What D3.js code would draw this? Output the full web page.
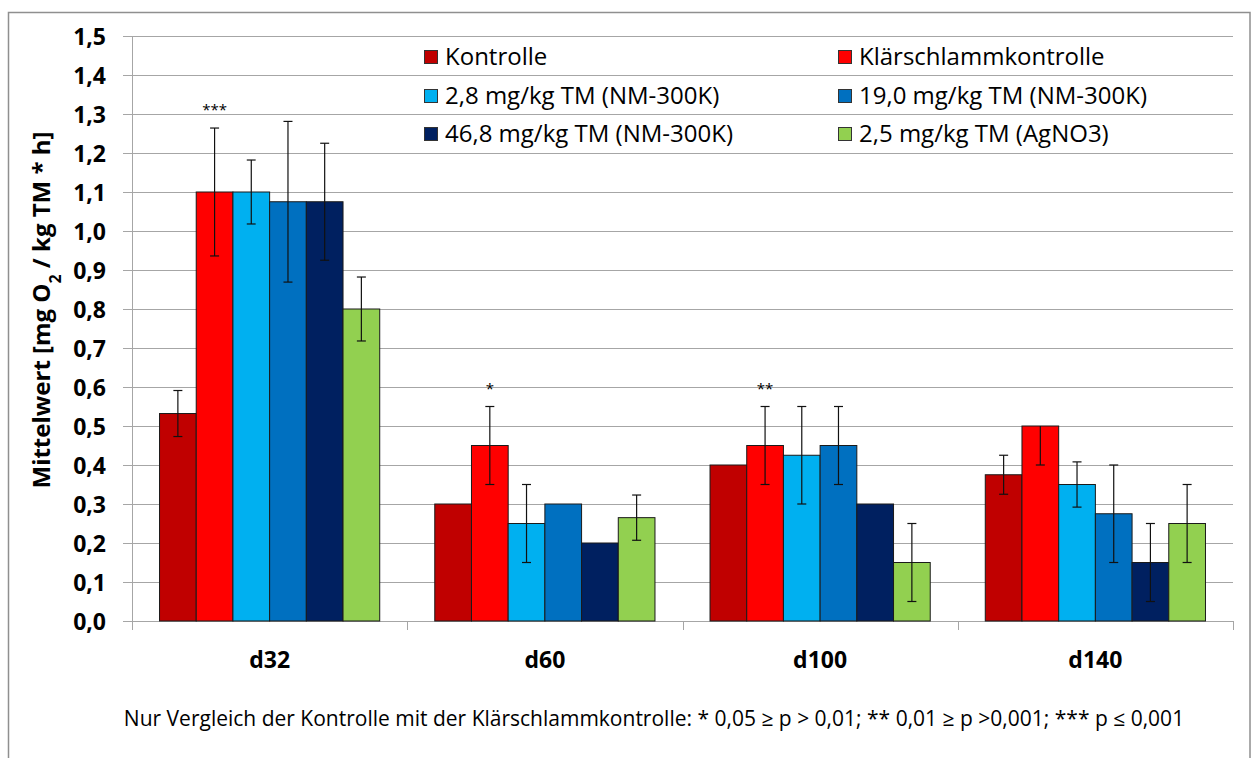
<!DOCTYPE html>
<html>
<head>
<meta charset="utf-8">
<script src="https://cdn.jsdelivr.net/npm/d3@7"></script>
<style>
  html, body { margin: 0; padding: 0; background: #fff; }
  svg { display: block; }
  text { font-family: "Open Sans", "Noto Sans", sans-serif; fill: #000; }
</style>
</head>
<body>
<svg id="chart" width="1252" height="758"></svg>
<script>
// Sampling days
const categories = ["d32", "d60", "d100", "d140"];

// Treatments (legend order)
const seriesNames = [
  "Kontrolle",
  "Klärschlammkontrolle",
  "2,8 mg/kg TM (NM-300K)",
  "19,0 mg/kg TM (NM-300K)",
  "46,8 mg/kg TM (NM-300K)",
  "2,5 mg/kg TM (AgNO3)"
];
const seriesColors = ["#C00000", "#FF0000", "#00B0F0", "#0070C0", "#002060", "#92D050"];

// Mean respiration per day [mg O2 / kg TM * h]
const kontrolle   = [0.532, 0.30, 0.40,  0.375];
const klaer       = [1.10,  0.45, 0.45,  0.50];
const nm28        = [1.10,  0.25, 0.425, 0.35];
const nm190       = [1.075, 0.30, 0.45,  0.275];
const nm468       = [1.075, 0.20, 0.30,  0.15];
const agno3       = [0.80,  0.265, 0.15, 0.25];

// Error bars: upper and lower deviation (null = no bar)
const kontrolleErrPlus  = [0.059, null, null, 0.05];
const kontrolleErrMinus = [0.059, null, null, 0.05];
const klaerErrPlus      = [0.164, 0.10, 0.10, 0];
const klaerErrMinus     = [0.164, 0.10, 0.10, 0.10];
const nm28ErrPlus       = [0.082, 0.10, 0.125, 0.058];
const nm28ErrMinus      = [0.082, 0.10, 0.125, 0.058];
const nm190ErrPlus      = [0.206, null, 0.10, 0.125];
const nm190ErrMinus     = [0.206, null, 0.10, 0.125];
const nm468ErrPlus      = [0.15, null, null, 0.10];
const nm468ErrMinus     = [0.15, null, null, 0.10];
const agno3ErrPlus      = [0.082, 0.058, 0.10, 0.10];
const agno3ErrMinus     = [0.082, 0.058, 0.10, 0.10];

// Significance marks (Kontrolle vs. Klärschlammkontrolle)
const sigCategories = ["d32", "d60", "d100"];
const sigLabels     = ["***", "*", "**"];

// Y axis ticks
const yTicks = [0, 0.1, 0.2, 0.3, 0.4, 0.5, 0.6, 0.7, 0.8, 0.9, 1.0, 1.1, 1.2, 1.3, 1.4, 1.5];

const footnote = "Nur Vergleich der Kontrolle mit der Klärschlammkontrolle: * 0,05 \u2265 p > 0,01; ** 0,01 \u2265 p >0,001; *** p \u2264 0,001";

const seriesValues = [kontrolle, klaer, nm28, nm190, nm468, agno3];
const seriesPlus   = [kontrolleErrPlus, klaerErrPlus, nm28ErrPlus, nm190ErrPlus, nm468ErrPlus, agno3ErrPlus];
const seriesMinus  = [kontrolleErrMinus, klaerErrMinus, nm28ErrMinus, nm190ErrMinus, nm468ErrMinus, agno3ErrMinus];

const svg = d3.select("#chart");
const W = 1252, H = 758;
const plot = { left: 132, right: 1233, top: 36, bottom: 621 };

svg.append("rect").attr("width", W).attr("height", H).attr("fill", "#fff");

// Outer chart frame
svg.append("rect")
  .attr("x", 8.5).attr("y", 12.5)
  .attr("width", 1241.5).attr("height", 760)
  .attr("fill", "none").attr("stroke", "#8f8f8f").attr("stroke-width", 1.5);

const y = d3.scaleLinear().domain([0, 1.5]).range([plot.bottom, plot.top]);
const x0 = d3.scaleBand().domain(categories).range([plot.left, plot.right]).padding(0);
const x1 = d3.scaleBand().domain(d3.range(seriesNames.length))
  .range([0, x0.bandwidth()]).paddingInner(0).paddingOuter(0.75);

// Horizontal gridlines with tick stubs
const yAxis = d3.axisLeft(y).tickValues(yTicks)
  .tickSize(-(plot.right - plot.left) - 9)
  .tickFormat(d => d3.format(".1f")(d).replace(".", ","));
const gy = svg.append("g").attr("transform", `translate(${plot.left - 9},0)`).call(yAxis);
gy.select(".domain").remove();
gy.selectAll(".tick line").attr("stroke", "#a6a6a6").attr("stroke-width", 1);
gy.selectAll(".tick text")
  .attr("x", -17)
  .attr("dy", "0.36em")
  .style("font-size", "23px").style("font-weight", "bold")
  .style("font-family", "'Open Sans', sans-serif");

// Vertical axis line
svg.append("line")
  .attr("x1", plot.left + 0.5).attr("x2", plot.left + 0.5)
  .attr("y1", plot.top).attr("y2", plot.bottom + 9)
  .attr("stroke", "#a6a6a6");

// Category separators on the x axis
const bounds = categories.map(c => x0(c)).concat([plot.right]);
svg.append("g").selectAll("line").data(bounds).join("line")
  .attr("x1", d => Math.round(d) + 0.5).attr("x2", d => Math.round(d) + 0.5)
  .attr("y1", plot.bottom).attr("y2", plot.bottom + 9)
  .attr("stroke", "#a6a6a6");

// Legend (drawn over gridlines, no background)
const legendCols = [424, 838];
const legendRows = [57, 96, 134];
const legend = svg.append("g");
seriesNames.forEach((name, i) => {
  const lx = legendCols[i % 2], ly = legendRows[Math.floor(i / 2)];
  legend.append("rect")
    .attr("x", lx + 0.5).attr("y", ly - 6.5)
    .attr("width", 13).attr("height", 13)
    .attr("fill", seriesColors[i]).attr("stroke", "#333").attr("stroke-width", 1);
  legend.append("text")
    .attr("x", lx + 21).attr("y", ly).attr("dy", "0.35em")
    .style("font-size", "24px")
    .text(name);
});

// Bars
const groups = svg.append("g").selectAll("g").data(categories).join("g")
  .attr("transform", c => `translate(${x0(c)},0)`);

const barData = (c, ci) => seriesNames.map((s, si) => ({
  si, value: seriesValues[si][ci], plus: seriesPlus[si][ci], minus: seriesMinus[si][ci]
}));

groups.each(function(c, ci) {
  const g = d3.select(this);
  const data = barData(c, ci);
  g.selectAll("rect").data(data).join("rect")
    .attr("x", d => x1(d.si))
    .attr("y", d => y(d.value))
    .attr("width", x1.bandwidth())
    .attr("height", d => y(0) - y(d.value))
    .attr("fill", d => seriesColors[d.si])
    .attr("stroke", "#1a1a1a").attr("stroke-width", 1);

  // Error bars
  const eb = g.selectAll("g.err").data(data.filter(d => d.plus != null)).join("g").attr("class", "err");
  const cx = d => x1(d.si) + x1.bandwidth() / 2;
  eb.append("line")
    .attr("x1", cx).attr("x2", cx)
    .attr("y1", d => y(d.value + d.plus)).attr("y2", d => y(d.value - d.minus))
    .attr("stroke", "#111").attr("stroke-width", 1.2);
  eb.filter(d => d.plus > 0).append("line")
    .attr("x1", d => cx(d) - 4.5).attr("x2", d => cx(d) + 4.5)
    .attr("y1", d => y(d.value + d.plus)).attr("y2", d => y(d.value + d.plus))
    .attr("stroke", "#111").attr("stroke-width", 1.2);
  eb.append("line")
    .attr("x1", d => cx(d) - 4.5).attr("x2", d => cx(d) + 4.5)
    .attr("y1", d => y(d.value - d.minus)).attr("y2", d => y(d.value - d.minus))
    .attr("stroke", "#111").attr("stroke-width", 1.2);
});

// Significance marks above the Klärschlammkontrolle bars
sigCategories.forEach((c, k) => {
  const ci = categories.indexOf(c);
  const top = klaer[ci] + klaerErrPlus[ci];
  svg.append("text")
    .attr("x", x0(c) + x1(1) + x1.bandwidth() / 2)
    .attr("y", y(top) - 13)
    .attr("text-anchor", "middle")
    .style("font-size", "15px")
    .text(sigLabels[k]);
});

// Category labels
svg.append("g").selectAll("text").data(categories).join("text")
  .attr("x", c => x0(c) + x0.bandwidth() / 2)
  .attr("y", 668)
  .attr("text-anchor", "middle")
  .style("font-size", "23px").style("font-weight", "bold")
  .text(c => c);

// Y axis title with subscript
const yTitle = svg.append("text")
  .attr("transform", "translate(50,310) rotate(-90)")
  .attr("text-anchor", "middle")
  .style("font-size", "24px").style("font-weight", "bold");
yTitle.append("tspan").text("Mittelwert [mg O");
yTitle.append("tspan").attr("baseline-shift", "sub").style("font-size", "16px").text("2");
yTitle.append("tspan").text(" / kg TM * h]");

// Footnote
svg.append("text")
  .attr("x", 654).attr("y", 726)
  .attr("text-anchor", "middle")
  .style("font-size", "21px")
  .text(footnote);
</script>
</body>
</html>
